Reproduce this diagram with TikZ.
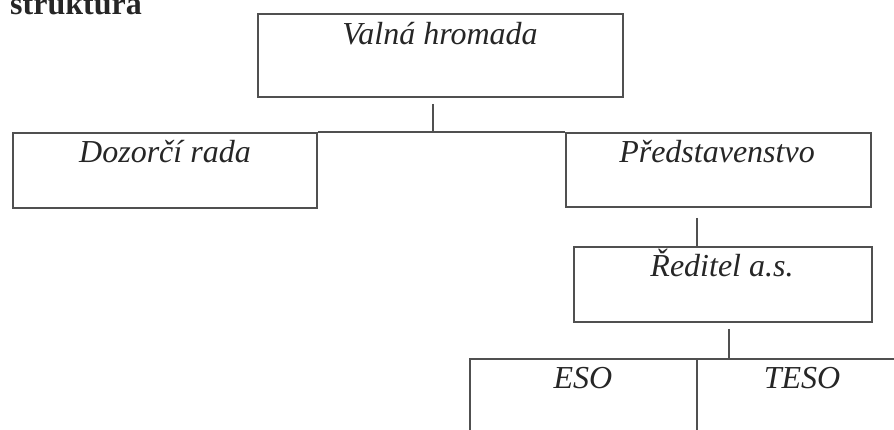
\documentclass[tikz,border=0pt]{standalone}
\usepackage{fontspec}
\setmainfont{Liberation Serif}
\begin{document}
\begin{tikzpicture}[x=1pt,y=-1pt,
  box/.style={draw=linegray, line width=1.7pt, rectangle, inner sep=0pt},
  lbl/.style={anchor=base, inner sep=0pt, text=textgray, font=\fontsize{32}{38}\selectfont\itshape},
  conn/.style={draw=linegray, line width=1.5pt}]
\definecolor{linegray}{HTML}{505050}
\definecolor{textgray}{HTML}{262626}
\useasboundingbox[fill=white] (0,0) rectangle (894,430);
% heading (cut off at top, as in the scan)
\node[anchor=base west, inner sep=0pt, text=textgray, font=\fontsize{32}{38}\selectfont\bfseries] (head) at (10,15) {struktura};
% boxes
\node[box, minimum width=365pt, minimum height=83pt] (vh) at (440.5,55.5) {};
\node[box, minimum width=304pt, minimum height=75pt] (dr) at (165,170.5) {};
\node[box, minimum width=305pt, minimum height=74pt] (pr) at (718.5,170) {};
\node[box, minimum width=298pt, minimum height=75pt] (re) at (723,284.5) {};
\node[box, minimum width=227pt, minimum height=100pt] (eso) at (583.5,409) {};
\node[box, minimum width=228pt, minimum height=100pt] (teso) at (811,409) {};
% labels
\node[lbl] (vht) at (440,45) {Valná hromada};
\node[lbl] (drt) at (165,163) {Dozorčí rada};
\node[lbl] (prt) at (717,163) {Představenstvo};
\node[lbl] (ret) at (722,277) {Ředitel a.s.};
\node[lbl] (esot) at (583,388) {ESO};
\node[lbl] (tesot) at (802,388) {TESO};
% connectors
\coordinate (j1) at (433,133);
\coordinate (j2) at (697,247);
\coordinate (j3) at (729,359);
\draw[conn] (dr.north east) -- (pr.north west);
\draw[conn] ([yshift=-6pt]vh.south -| j1) -- (j1);
\draw[conn] ([yshift=-10pt]pr.south -| j2) -- (j2);
\draw[conn] ([yshift=-6pt]re.south -| j3) -- (j3);
\end{tikzpicture}
\end{document}
